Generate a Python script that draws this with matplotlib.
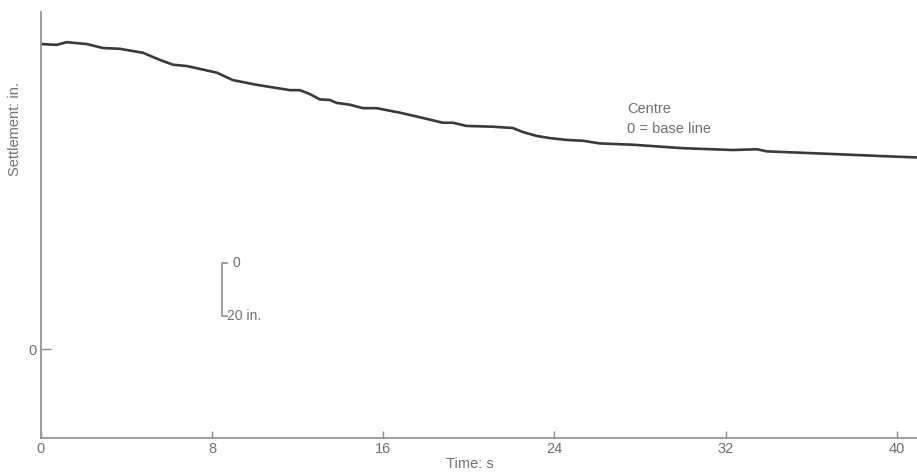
import numpy as np
import matplotlib.pyplot as plt

# trace at centre, time in s, settlement in in. (0 = base line, down positive)
time = [0.0, 0.73, 1.2, 2.14, 2.9, 3.69, 4.77, 5.56, 6.17, 6.82, 8.22, 8.97,
        10.09, 11.64, 12.1, 12.57, 13.04, 13.5, 13.82, 14.44, 15.05, 15.69,
        16.78, 17.85, 18.79, 19.25, 19.89, 21.12, 22.06, 22.52, 23.18, 23.79,
        24.58, 25.33, 26.12, 27.66, 30.0, 32.34, 33.46, 33.93, 37.0, 39.35,
        40.95]
settlement = [-115.1, -114.8, -115.8, -115.1, -113.6, -113.3, -111.8, -109.1,
              -107.3, -106.8, -104.3, -101.5, -99.7, -97.7, -97.7, -96.2,
              -94.2, -94.0, -92.9, -92.2, -90.9, -90.9, -89.2, -87.2, -85.4,
              -85.4, -84.2, -83.9, -83.4, -81.9, -80.4, -79.6, -78.9, -78.6,
              -77.6, -77.1, -75.8, -75.1, -75.4, -74.6, -73.6, -72.8, -72.3]

xticks = [0, 8, 16, 24, 32, 40]
yticks = [0]

axis_col = '#8c8c8c'
text_col = '#707070'
line_col = '#3a3a3a'

plt.rcParams['font.family'] = ['Liberation Sans', 'DejaVu Sans']

fig = plt.figure(figsize=(9.17, 4.74), dpi=100)
ax = fig.add_axes([0.0447, 0.0759, 0.9553, 0.8988])

ax.plot(time, settlement, color=line_col, lw=1.9)

# scale bar
ax.plot([8.69, 8.44, 8.44, 8.69], [-32.5, -32.5, -12.5, -12.5],
        color=axis_col, lw=1.2)
ax.text(8.97, -32.5, '0', color=text_col, fontsize=10, va='center', ha='left')
ax.text(8.69, -12.5, '20 in.', color=text_col, fontsize=10, va='center', ha='left')

ax.text(27.4, -90.5, 'Centre', color=text_col, fontsize=10.5, va='center')
ax.text(27.4, -83.0, '0 = base line', color=text_col, fontsize=10.5, va='center')

ax.set_xlim(0, 40.95)
ax.set_ylim(33.6, -127.2)
ax.set_xticks(xticks)
ax.set_yticks(yticks)
ax.tick_params(axis='x', direction='in', length=5, width=1, colors=axis_col,
               labelcolor=text_col, labelsize=10.5, pad=3)
ax.tick_params(axis='y', direction='in', length=7, width=1, colors=axis_col,
               labelcolor=text_col, labelsize=10.5, pad=3)

for s in ['top', 'right']:
    ax.spines[s].set_visible(False)
for s in ['left', 'bottom']:
    ax.spines[s].set_color(axis_col)
    ax.spines[s].set_linewidth(1.2)

ax.set_xlabel('Time: s', color=text_col, fontsize=10.5)
ax.xaxis.set_label_coords(0.49, -0.045)
ax.set_ylabel('Settlement: in.', color=text_col, fontsize=10.5)
ax.yaxis.set_label_coords(-0.022, 0.725)

fig.savefig('out.png', dpi=100)
